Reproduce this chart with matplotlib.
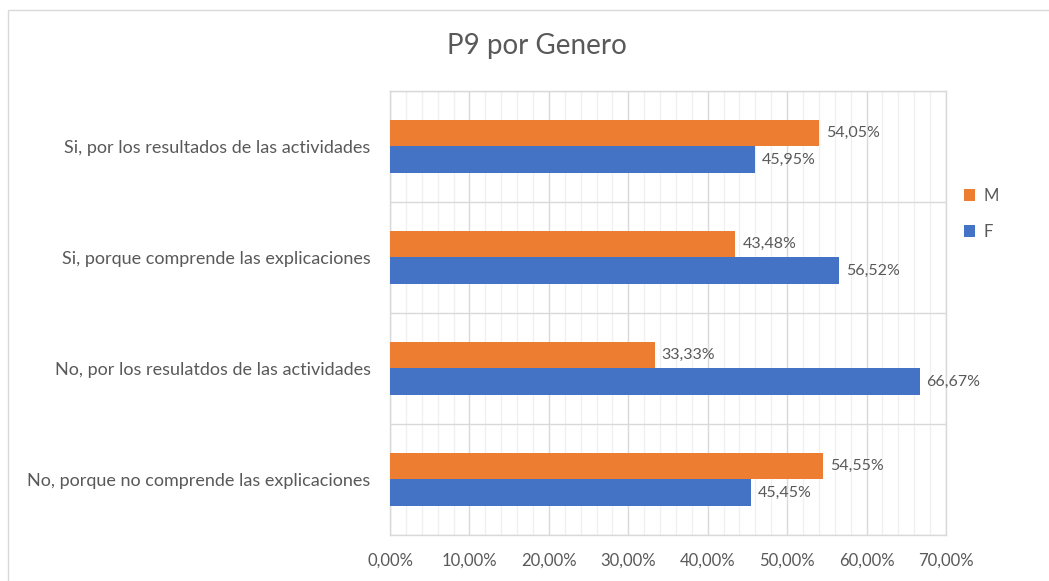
import matplotlib
matplotlib.use("Agg")
import matplotlib.pyplot as plt
import numpy as np
from matplotlib.patches import Rectangle

categories = ["No, porque no comprende las explicaciones",
              "No, por los resulatdos de las actividades",
              "Si, porque comprende las explicaciones",
              "Si, por los resultados de las actividades"]
values_M = [54.55, 33.33, 43.48, 54.05]
values_F = [45.45, 66.67, 56.52, 45.95]
xticks = [0, 10, 20, 30, 40, 50, 60, 70]

plt.rcParams['font.family'] = ['Lato', 'DejaVu Sans']
txt = '#595959'
orange = '#ED7D31'
blue = '#4472C4'

fig = plt.figure(figsize=(10.49, 5.81), dpi=100)
fig.patches.append(Rectangle((0.008, -0.01), 1.0, 0.993, transform=fig.transFigure,
                             fill=False, edgecolor='#D9D9D9', linewidth=1))
ax = fig.add_axes([0.3718, 0.0792, 0.5300, 0.7642])

y = np.arange(len(categories))
h = 0.24
bm = ax.barh(y + h / 2, values_M, height=h, color=orange, label='M', zorder=3)
bf = ax.barh(y - h / 2, values_F, height=h, color=blue, label='F', zorder=3)

def fmt(v):
    return f"{v:.2f}".replace('.', ',') + '%'

for bars, vals in ((bm, values_M), (bf, values_F)):
    for b, v in zip(bars, vals):
        ax.annotate(fmt(v), (b.get_width(), b.get_y() + b.get_height() / 2),
                    xytext=(5, 0), textcoords='offset points', va='center', ha='left',
                    fontsize=11.5, color=txt)

ax.set_xlim(0, 70)
ax.set_ylim(-0.5, len(categories) - 0.5)
ax.set_xticks(xticks)
ax.set_xticklabels([f"{t:.2f}".replace('.', ',') + '%' for t in xticks], fontsize=12, color=txt)
ax.set_xticks(np.arange(0, 71, 2), minor=True)
ax.set_yticks(y)
ax.set_yticklabels(categories, fontsize=13, color=txt)
ax.set_yticks(np.arange(-0.5, len(categories), 1), minor=True)
ax.tick_params(axis='both', which='both', length=0)
ax.tick_params(axis='x', pad=13)
ax.tick_params(axis='y', pad=14)
ax.grid(True, which='major', axis='x', color='#D9D9D9', linewidth=1, zorder=0)
ax.grid(True, which='minor', axis='x', color='#F0F0F0', linewidth=1, zorder=0)
ax.grid(True, which='minor', axis='y', color='#D9D9D9', linewidth=1, zorder=0)
for s in ax.spines.values():
    s.set_color('#D9D9D9')
    s.set_linewidth(1)

fig.text(0.512, 0.92, "P9 por Genero", ha='center', va='center', fontsize=20, color=txt)

handles = [bm, bf]
ax.legend(handles, ['M', 'F'], loc='upper left', bbox_to_anchor=(1.005, 0.815),
          frameon=False, fontsize=12, labelcolor=txt, handlelength=0.7, handleheight=0.7,
          handletextpad=0.5, labelspacing=1.2)

fig.savefig('out.png', dpi=100)
